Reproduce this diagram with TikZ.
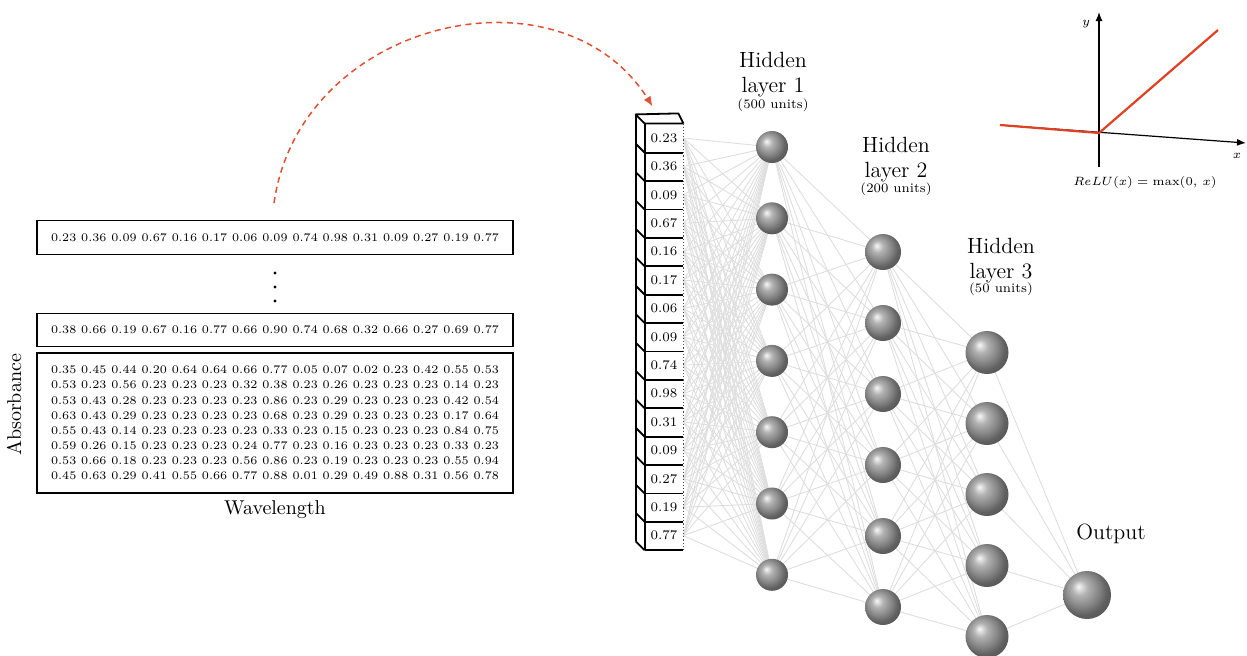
\documentclass[tikz,border=0pt]{standalone}
\usetikzlibrary{arrows.meta,backgrounds,calc}
\definecolor{relured}{RGB}{225,65,35}
\definecolor{arcred}{RGB}{225,80,50}
\definecolor{linkgray}{RGB}{222,222,222}
\pgfdeclareradialshading{lightball}{\pgfpoint{-9bp}{9bp}}{color(0bp)=(black!3); color(8bp)=(black!30); color(18bp)=(black!48); color(25bp)=(black!62); color(50bp)=(black!80)}
\begin{document}
\begin{tikzpicture}[x=0.5pt,y=-0.5pt,
  rowbox/.style={draw,line width=0.8pt,minimum width=238pt,inner sep=0pt,font=\fontsize{5.8}{7.57}\selectfont},
  cell/.style={minimum width=19pt,minimum height=14.2pt,inner sep=0pt,font=\fontsize{6.6}{8}\selectfont},
  colline/.style={line width=0.9pt},
  ballA/.style={circle,shading=lightball,minimum size=16pt,inner sep=0pt},
  ballB/.style={ballA,minimum size=18pt},
  ballC/.style={ballA,minimum size=21.5pt},
  ballD/.style={ballA,minimum size=24pt},
  link/.style={draw=linkgray,line width=0.45pt},
  lay/.style={align=center,font=\fontsize{11}{12.5}\selectfont,inner sep=0pt},
  units/.style={font=\fontsize{6.5}{8}\selectfont,inner sep=0pt},
]
\useasboundingbox (0,0) rectangle (1247,655);

% ---------- data matrix ----------
\node[rowbox,minimum height=17pt] (row1) at (275,237.5)
  {0.23 0.36 0.09 0.67 0.16 0.17 0.06 0.09 0.74 0.98 0.31 0.09 0.27 0.19 0.77};
\fill (275,273) circle (0.8pt);
\fill (275,287) circle (0.8pt);
\fill (275,301) circle (0.8pt);
\node[rowbox,minimum height=16.5pt] (row2) at (275,330)
  {0.38 0.66 0.19 0.67 0.16 0.77 0.66 0.90 0.74 0.68 0.32 0.66 0.27 0.69 0.77};
\node[rowbox,minimum height=70pt,align=center] (mat) at (275,423)
  {0.35 0.45 0.44 0.20 0.64 0.64 0.66 0.77 0.05 0.07 0.02 0.23 0.42 0.55 0.53\\
   0.53 0.23 0.56 0.23 0.23 0.23 0.32 0.38 0.23 0.26 0.23 0.23 0.23 0.14 0.23\\
   0.53 0.43 0.28 0.23 0.23 0.23 0.23 0.86 0.23 0.29 0.23 0.23 0.23 0.42 0.54\\
   0.63 0.43 0.29 0.23 0.23 0.23 0.23 0.68 0.23 0.29 0.23 0.23 0.23 0.17 0.64\\
   0.55 0.43 0.14 0.23 0.23 0.23 0.23 0.33 0.23 0.15 0.23 0.23 0.23 0.84 0.75\\
   0.59 0.26 0.15 0.23 0.23 0.23 0.24 0.77 0.23 0.16 0.23 0.23 0.23 0.33 0.23\\
   0.53 0.66 0.18 0.23 0.23 0.23 0.56 0.86 0.23 0.19 0.23 0.23 0.23 0.55 0.94\\
   0.45 0.63 0.29 0.41 0.55 0.66 0.77 0.88 0.01 0.29 0.49 0.88 0.31 0.56 0.78};
\node[font=\fontsize{10}{12}\selectfont,inner sep=0pt] (wl) at (275,510) {Wavelength};
\node[font=\fontsize{10}{12}\selectfont,inner sep=0pt,rotate=90] (ab) at (14,405) {Absorbance};

% ---------- input column ----------
\foreach \v [count=\i from 0] in {0.23,0.36,0.09,0.67,0.16,0.17,0.06,0.09,0.74,0.98,0.31,0.09,0.27,0.19,0.77}
  \node[cell] (c\i) at (664,{138+28.4*\i}) {\v};
\draw[colline] (c0.north west) -- (c14.south west);
\draw[colline] ($(c0.north west)+(-9,-9)$) -- ($(c14.south west)+(-9,-9)$);
\foreach \i in {0,...,14} {
  \draw[colline] (c\i.south west) -- (c\i.south east);
  \draw[colline] (c\i.south west) -- ++(-9,-9);
}
\draw[colline,line join=round] (c0.north east) -- (c0.north west) -- ++(-9,-9) -- ($(c0.north east)+(-5,-10)$) -- cycle;
\draw[line width=0.6pt,densely dotted,black!70] (c0.north east) -- (c14.south east);

% ---------- network ----------
\foreach \j in {0,...,6} \node[ballA] (a\j) at (772,{147+71.3*\j}) {};
\foreach \j in {0,...,5} \node[ballB] (b\j) at (883,{252+71*\j}) {};
\foreach \j in {0,...,4} \node[ballC] (d\j) at (987,{352.5+71*\j}) {};
\node[ballD] (out) at (1087,595) {};

\begin{scope}[on background layer]
  \foreach \i in {0,...,14} \foreach \j in {0,...,6} \draw[link] (c\i.east) -- (a\j.center);
  \foreach \i in {0,...,6} \foreach \j in {0,...,5} \draw[link] (a\i.center) -- (b\j.center);
  \foreach \i in {0,...,5} \foreach \j in {0,...,4} \draw[link] (b\i.center) -- (d\j.center);
  \foreach \i in {0,...,4} \draw[link] (d\i.center) -- (out.center);
\end{scope}

\node[lay] (l1) at (773,75) {Hidden\\layer 1};
\node[units] (u1) at (773,105) {(500 units)};
\node[lay] (l2) at (896,160) {Hidden\\layer 2};
\node[units] (u2) at (896,189) {(200 units)};
\node[lay] (l3) at (1001,261) {Hidden\\layer 3};
\node[units] (u3) at (1001,289) {(50 units)};
\node[lay] (lo) at (1111,534) {Output};

% ---------- arrow from data to input ----------
\coordinate (arcS) at (274,203);
\coordinate (arcE) at ($(c0.north west)+(8,-17)$);
\draw[arcred,line width=0.75pt,dash pattern=on 3pt off 2.2pt,-{Latex[length=5pt,width=4pt]}]
  (arcS) .. controls (300,20) and (560,-40) .. (arcE);

% ---------- ReLU ----------
\coordinate (O) at (1099,133);
\coordinate (ybot) at (1099,167);
\coordinate (ytop) at (1099,12);
\coordinate (xl) at (1000,125);
\coordinate (xr) at (1246,143);
\coordinate (rtop) at (1218,30);
\draw[line width=0.6pt,-{Latex[length=4.5pt,width=3.5pt]}] (ybot) -- (ytop);
\draw[line width=0.6pt,-{Latex[length=4.5pt,width=3.5pt]}] (xl) -- (xr);
\draw[relured,line width=1.1pt] (xl) -- (O) -- (rtop);
\node[units] (ylab) at (1086,24) {$y$};
\node[units] (xlab) at (1237,156) {$x$};
\node[units] (relu) at (1145,182) {$ReLU(x) = \max(0,\,x)$};
\end{tikzpicture}
\end{document}
